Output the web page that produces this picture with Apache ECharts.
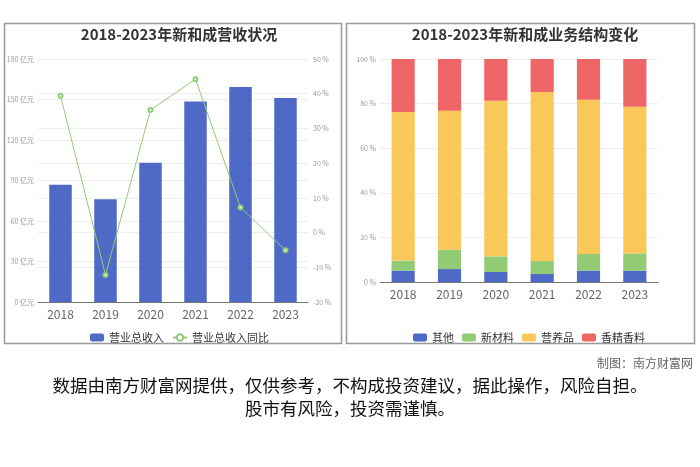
<!DOCTYPE html>
<html>
<head>
<meta charset="utf-8">
<script src="https://cdn.jsdelivr.net/npm/echarts@6/dist/echarts.min.js"></script>
<style>
html,body{margin:0;padding:0;background:#fff;}
#c{width:700px;height:467px;}
</style>
</head>
<body>
<div id="c"></div>
<script>
const years = ['2018','2019','2020','2021','2022','2023'];
const revenue = [86.8, 76.2, 103.1, 148.6, 159.3, 151.2];
const revenueYoY = [39.4, -12.2, 35.3, 44.2, 7.2, -5.1];
const shareOther = [5.1, 5.8, 4.5, 3.6, 5.1, 5.1];
const shareNewMat = [4.5, 8.7, 7.0, 5.8, 7.5, 7.7];
const shareNutrition = [66.6, 62.3, 69.8, 75.8, 69.1, 65.8];
const shareFlavor = [23.8, 23.2, 18.7, 14.8, 18.3, 21.4];
const leftTicksRange = {min: 0, max: 180, interval: 30};
const rightTicksRange = {min: -20, max: 50, interval: 10};

const FONT = '"Noto Sans CJK SC","Noto Sans",sans-serif';
const chart = echarts.init(document.getElementById('c'));
const labelStyle = {fontSize: 7, color: '#999', fontFamily: FONT};
const splitStyle = {lineStyle: {color: '#eeeeee', width: 1}};
const xLabel = {fontSize: 12, color: '#666', fontFamily: FONT, margin: 6};
const stackColors = ['#4f69c6', '#91cc75', '#fac858', '#ee6666'];

chart.setOption({
  animation: false,
  textStyle: {fontFamily: FONT},
  title: [
    {text: '2018-2023年新和成营收状况', left: 174, textAlign: 'center', top: 22,
     textStyle: {fontSize: 15, fontWeight: 'bold', color: '#333', fontFamily: FONT}},
    {text: '2018-2023年新和成业务结构变化', left: 520, textAlign: 'center', top: 22,
     textStyle: {fontSize: 15, fontWeight: 'bold', color: '#333', fontFamily: FONT}}
  ],
  legend: [
    {data: ['营业总收入', '营业总收入同比'], top: 327,
     left: 85, itemWidth: 14, itemHeight: 8, itemGap: 8,
     textStyle: {fontSize: 11, color: '#333', fontFamily: FONT}},
    {data: ['其他', '新材料', '营养品', '香精香料'], top: 327, left: 408,
     itemWidth: 14, itemHeight: 8, itemGap: 8,
     textStyle: {fontSize: 11, color: '#333', fontFamily: FONT}}
  ],
  grid: [
    {left: 38, right: 392, top: 59, bottom: 165},
    {left: 380, right: 42, top: 59, bottom: 185}
  ],
  xAxis: [
    {type: 'category', data: years, gridIndex: 0,
     axisLine: {lineStyle: {color: '#777'}}, axisTick: {lineStyle: {color: '#777'}},
     axisLabel: xLabel},
    {type: 'category', data: years, gridIndex: 1,
     axisLine: {lineStyle: {color: '#777'}}, axisTick: {lineStyle: {color: '#777'}},
     axisLabel: xLabel}
  ],
  yAxis: [
    {type: 'value', gridIndex: 0, min: leftTicksRange.min, max: leftTicksRange.max, interval: leftTicksRange.interval,
     axisLabel: Object.assign({formatter: '{value} 亿元', margin: 4}, labelStyle),
     splitLine: splitStyle, axisLine: {show: false}, axisTick: {show: false}},
    {type: 'value', gridIndex: 0, position: 'right', min: rightTicksRange.min, max: rightTicksRange.max, interval: rightTicksRange.interval,
     axisLabel: Object.assign({formatter: '{value} %', margin: 5}, labelStyle),
     splitLine: splitStyle, axisLine: {show: false}, axisTick: {show: false}},
    {type: 'value', gridIndex: 1, min: 0, max: 100, interval: 20,
     axisLabel: Object.assign({formatter: '{value} %', margin: 4}, labelStyle),
     splitLine: splitStyle, axisLine: {show: false}, axisTick: {show: false}}
  ],
  series: [
    {name: '营业总收入', type: 'bar', xAxisIndex: 0, yAxisIndex: 0, data: revenue,
     barWidth: '50%', itemStyle: {color: '#4f69c6'}},
    {name: '营业总收入同比', type: 'line', xAxisIndex: 0, yAxisIndex: 1, data: revenueYoY,
     symbol: 'emptyCircle', symbolSize: 4, lineStyle: {color: '#91cc75', width: 1},
     itemStyle: {color: '#91cc75'}},
    {name: '其他', type: 'bar', stack: 's', xAxisIndex: 1, yAxisIndex: 2, data: shareOther,
     barWidth: '50%', itemStyle: {color: stackColors[0]}},
    {name: '新材料', type: 'bar', stack: 's', xAxisIndex: 1, yAxisIndex: 2, data: shareNewMat,
     barWidth: '50%', itemStyle: {color: stackColors[1]}},
    {name: '营养品', type: 'bar', stack: 's', xAxisIndex: 1, yAxisIndex: 2, data: shareNutrition,
     barWidth: '50%', itemStyle: {color: stackColors[2]}},
    {name: '香精香料', type: 'bar', stack: 's', xAxisIndex: 1, yAxisIndex: 2, data: shareFlavor,
     barWidth: '50%', itemStyle: {color: stackColors[3]}}
  ],
  graphic: [
    {type: 'rect', shape: {x: 4.5, y: 23.5, width: 337, height: 320},
     style: {fill: 'none', stroke: '#999', lineWidth: 1.5}, z: 100},
    {type: 'rect', shape: {x: 346.5, y: 23.5, width: 348, height: 320},
     style: {fill: 'none', stroke: '#999', lineWidth: 1.5}, z: 100},
    {type: 'text', right: 7, top: 357,
     style: {text: '制图：南方财富网', fontSize: 12, fill: '#666', fontFamily: FONT}},
    {type: 'text', left: 'center', top: 374,
     style: {text: '数据由南方财富网提供，仅供参考，不构成投资建议，据此操作，风险自担。\n股市有风险，投资需谨慎。',
             fontSize: 17.5, fill: '#111', fontFamily: FONT, textAlign: 'center', lineHeight: 23}}
  ]
});
</script>
</body>
</html>
